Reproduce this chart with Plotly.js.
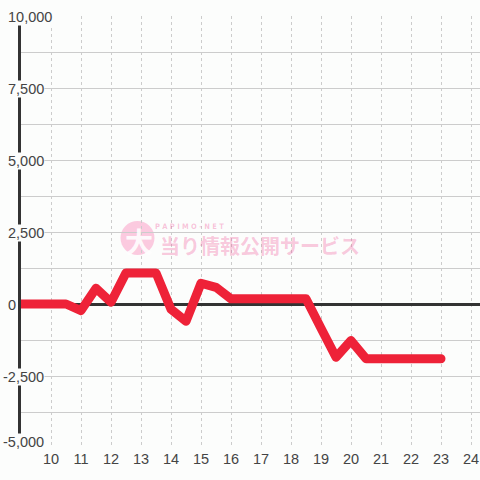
<!DOCTYPE html>
<html>
<head>
<meta charset="utf-8">
<script src="https://cdn.plot.ly/plotly-3.0.1.min.js"></script>
<style>html,body{margin:0;padding:0;background:#fcfdfc;}</style>
</head>
<body>
<div id="chart" style="width:480px;height:480px;"></div>
<script>
// Data
var hours = [9, 9.5, 10, 10.5, 11, 11.5, 12, 12.5, 13, 13.5, 14, 14.5, 15, 15.5, 16, 16.5, 17, 17.5, 18, 18.5, 19, 19.5, 20, 20.5, 21, 21.5, 22, 22.5, 23];
var balance = [0, 0, 0, 0, -230, 550, 60, 1080, 1080, 1080, -180, -600, 720, 580, 180, 180, 180, 180, 180, 180, -840, -1850, -1270, -1900, -1900, -1900, -1900, -1900, -1900];
var xTickVals = [10, 11, 12, 13, 14, 15, 16, 17, 18, 19, 20, 21, 22, 23, 24];
var xTickText = ['10', '11', '12', '13', '14', '15', '16', '17', '18', '19', '20', '21', '22', '23', '24'];
var yTickVals = [10000, 7500, 5000, 2500, 0, -2500, -5000];
var yTickText = ['10,000', '7,500', '5,000', '2,500', '0', '-2,500', '-5,000'];
var watermarkSmall = 'PAPIMO-NET';
var watermarkMain = '当り情報公開サービス';
var watermarkIcon = '大';

var BG = '#fcfdfc';
var FONT = 'Liberation Sans, Arial, sans-serif';

var trace = {
  x: hours, y: balance, type: 'scatter', mode: 'lines',
  line: {color: '#ee2238', width: 9},
  hoverinfo: 'skip'
};

var annotations = yTickVals.map(function (v, i) {
  return {
    xref: 'paper', yref: 'y', x: 0, y: v,
    xanchor: 'left', yanchor: 'middle',
    xshift: -14 - (v < 0 ? 5 : 0),
    yshift: (i === yTickVals.length - 1) ? 6 : -1,
    text: yTickText[i], showarrow: false,
    bgcolor: BG, borderpad: 0,
    font: {family: FONT, size: 14.5, color: '#444'}
  };
});

annotations.push({
  xref: 'paper', yref: 'paper', x: 0.368, y: 0.5127, xanchor: 'center', yanchor: 'middle',
  text: '<b>' + watermarkSmall.split('').join(' ') + '</b>', showarrow: false,
  font: {family: 'DejaVu Sans Condensed, DejaVu Sans, sans-serif', size: 7.5, color: 'rgba(238,72,145,0.32)'}
});
annotations.push({
  xref: 'paper', yref: 'paper', x: 0.5207, y: 0.4699, xanchor: 'center', yanchor: 'middle',
  text: '<b>' + watermarkMain + '</b>', showarrow: false,
  font: {family: 'Noto Sans CJK JP, sans-serif', size: 20, color: 'rgba(238,72,145,0.3)'}
});
annotations.push({
  xref: 'paper', yref: 'paper', x: 0.257, y: 0.479, xanchor: 'center', yanchor: 'middle',
  text: '<b>' + watermarkIcon + '</b>', showarrow: false,
  font: {family: 'Noto Sans CJK JP, sans-serif', size: 28, color: 'rgba(255,255,255,0.9)'}
});

var layout = {
  width: 480, height: 480,
  margin: {l: 21, r: 0, t: 16, b: 32},
  paper_bgcolor: BG, plot_bgcolor: BG,
  showlegend: false,
  xaxis: {
    range: [9, 24.3], tickvals: xTickVals, ticktext: xTickText,
    showgrid: true, gridcolor: '#cccccc', gridwidth: 1, griddash: 'dot',
    zeroline: false, showline: false, ticks: '',
    tickfont: {family: FONT, size: 14.5, color: '#444'},
    fixedrange: true
  },
  yaxis: {
    range: [-5000, 10000], dtick: 1250, tick0: 0,
    showticklabels: false, ticks: '',
    showgrid: true, gridcolor: '#cccccc', gridwidth: 1,
    zeroline: true, zerolinecolor: '#333333', zerolinewidth: 3,
    showline: true, linecolor: '#333333', linewidth: 3,
    fixedrange: true
  },
  shapes: [{
    type: 'circle', xref: 'paper', yref: 'paper', layer: 'below',
    x0: 0.2168, x1: 0.2908, y0: 0.4468, y1: 0.5255,
    fillcolor: '#fbcadf', line: {width: 0}
  }],
  annotations: annotations
};

Plotly.newPlot('chart', [trace], layout, {displayModeBar: false, staticPlot: true}).then(function () {
  document.querySelectorAll('.js-line').forEach(function (p) {
    p.style.strokeLinecap = 'round';
    p.style.strokeLinejoin = 'round';
  });
  document.querySelectorAll('.plot').forEach(function (g) {
    g.removeAttribute('clip-path');
  });
});
</script>
</body>
</html>
